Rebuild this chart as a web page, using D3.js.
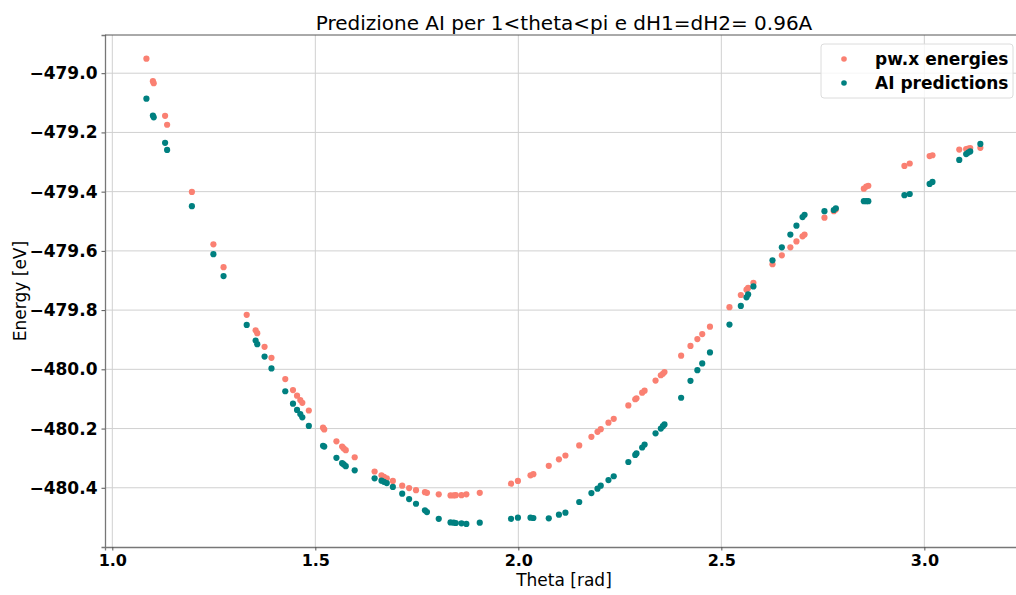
<!DOCTYPE html>
<html lang="en">
<head>
    <meta charset="UTF-8">
    <title>Predizione AI</title>
    <script src="https://d3js.org/d3.v7.min.js"></script>
    <style>
        body {
            margin: 0;
            background: #fff;
            font-family: "DejaVu Sans", sans-serif;
        }
    </style>
</head>
<body>
    <main></main>
</body>
</html>

<script>

    // theta values (rad), same for both series
    var theta = [1.084, 1.100, 1.102, 1.130, 1.135, 1.196, 1.249, 1.274, 1.331, 1.353,
        1.357, 1.375, 1.392, 1.426, 1.445, 1.455, 1.463, 1.468, 1.484, 1.519,
        1.522, 1.552, 1.566, 1.570, 1.575, 1.597, 1.646, 1.663, 1.669, 1.676,
        1.691, 1.714, 1.731, 1.748, 1.770, 1.775, 1.804, 1.833, 1.841, 1.846,
        1.860, 1.872, 1.905, 1.982, 1.999, 2.030, 2.037, 2.075, 2.100, 2.116,
        2.150, 2.180, 2.195, 2.203, 2.222, 2.235, 2.271, 2.288, 2.291, 2.305,
        2.311, 2.338, 2.351, 2.356, 2.360, 2.401, 2.424, 2.441, 2.453, 2.472,
        2.520, 2.548, 2.562, 2.566, 2.579, 2.626, 2.649, 2.670, 2.685, 2.700,
        2.705, 2.754, 2.777, 2.782, 2.851, 2.857, 2.862, 2.951, 2.964, 3.013,
        3.020, 3.086, 3.103, 3.108, 3.113, 3.138];

    // pw.x energies [eV]
    var pwEnergies = [-478.951, -479.027, -479.034, -479.144, -479.174, -479.401, -479.578, -479.655, -479.816, -479.868,
        -479.878, -479.924, -479.961, -480.033, -480.070, -480.089, -480.104, -480.113, -480.139, -480.197,
        -480.203, -480.243, -480.261, -480.267, -480.273, -480.297, -480.345, -480.358, -480.363, -480.368,
        -480.377, -480.393, -480.401, -480.408, -480.415, -480.417, -480.422, -480.426, -480.426, -480.425,
        -480.425, -480.422, -480.417, -480.386, -480.377, -480.358, -480.354, -480.326, -480.304, -480.291,
        -480.257, -480.228, -480.211, -480.202, -480.180, -480.167, -480.122, -480.101, -480.098, -480.079,
        -480.072, -480.038, -480.020, -480.015, -480.009, -479.954, -479.921, -479.898, -479.881, -479.856,
        -479.790, -479.749, -479.731, -479.725, -479.708, -479.645, -479.615, -479.588, -479.568, -479.551,
        -479.545, -479.488, -479.466, -479.460, -479.390, -479.383, -479.380, -479.313, -479.305, -479.280,
        -479.277, -479.258, -479.256, -479.255, -479.253, -479.252];

    // AI predictions [eV]
    var aiPredictions = [-479.086, -479.143, -479.149, -479.235, -479.259, -479.449, -479.611, -479.685, -479.850, -479.903,
        -479.915, -479.957, -479.997, -480.074, -480.116, -480.137, -480.151, -480.162, -480.191, -480.258,
        -480.261, -480.299, -480.317, -480.321, -480.327, -480.341, -480.368, -480.376, -480.380, -480.384,
        -480.397, -480.420, -480.438, -480.454, -480.476, -480.482, -480.505, -480.517, -480.518, -480.519,
        -480.520, -480.522, -480.518, -480.505, -480.501, -480.501, -480.502, -480.503, -480.491, -480.484,
        -480.448, -480.418, -480.403, -480.393, -480.374, -480.361, -480.313, -480.289, -480.284, -480.264,
        -480.254, -480.216, -480.200, -480.192, -480.186, -480.096, -480.039, -480.003, -479.980, -479.943,
        -479.849, -479.786, -479.757, -479.747, -479.720, -479.632, -479.588, -479.545, -479.515, -479.486,
        -479.478, -479.466, -479.462, -479.456, -479.432, -479.432, -479.432, -479.412, -479.408, -479.374,
        -479.367, -479.293, -479.273, -479.268, -479.264, -479.239];

    var xTicks = [1.0, 1.5, 2.0, 2.5, 3.0];
    var yTicks = [-479.0, -479.2, -479.4, -479.6, -479.8, -480.0, -480.2, -480.4];

    var seriesNames = ['pw.x energies', 'AI predictions'];
    var seriesColors = ['#fa8072', '#008080'];

    var w = 1016, h = 595;
    var m = {top: 35, left: 105, bottom: 48, right: -7};

    var svg = d3.select('main')
        .append('svg')
        .attr('width', w)
        .attr('height', h)
        .style('display', 'block');

    var x = d3.scaleLinear()
        .domain([0.982, 3.243])
        .range([m.left, w - m.right]);

    var y = d3.scaleLinear()
        .domain([-480.60, -478.871])
        .range([h - m.bottom, m.top]);

    //grid
    svg.append('g')
        .selectAll('line')
        .data(xTicks)
        .enter().append('line')
        .attr('x1', d => x(d)).attr('x2', d => x(d))
        .attr('y1', m.top).attr('y2', h - m.bottom)
        .attr('stroke', '#d0d0d0')
        .attr('stroke-width', 1);

    svg.append('g')
        .selectAll('line')
        .data(yTicks)
        .enter().append('line')
        .attr('x1', m.left).attr('x2', w - m.right)
        .attr('y1', d => y(d)).attr('y2', d => y(d))
        .attr('stroke', '#d0d0d0')
        .attr('stroke-width', 1);

    //axes
    var xAxis = svg.append('g')
        .attr('transform', 'translate(0,' + (h - m.bottom) + ')')
        .call(d3.axisBottom(x).tickValues(xTicks).tickFormat(d3.format('.1f')).tickSizeOuter(0).tickSize(3.5).tickPadding(4));

    var yAxis = svg.append('g')
        .attr('transform', 'translate(' + m.left + ',0)')
        .call(d3.axisLeft(y).tickValues(yTicks).tickFormat(d3.format('.1f')).tickSizeOuter(0).tickSize(3.5).tickPadding(4));

    xAxis.selectAll('text').attr('font-size', '16px');
    yAxis.selectAll('text').attr('font-size', '17px');

    [xAxis, yAxis].forEach(function(a) {
        a.selectAll('text')
            .attr('font-family', '"DejaVu Sans", sans-serif')
            .attr('font-weight', 'bold')
            .attr('fill', '#000');
        a.selectAll('.tick line').attr('stroke', '#555');
        a.select('.domain').attr('stroke', '#777').attr('stroke-width', 1.3);
    });

    // top spine
    svg.append('line')
        .attr('x1', m.left).attr('x2', w - m.right)
        .attr('y1', m.top).attr('y2', m.top)
        .attr('stroke', '#555')
        .attr('stroke-width', 1);

    //points
    svg.append('g')
        .selectAll('circle')
        .data(theta.map((t, i) => [t, pwEnergies[i]]))
        .enter().append('circle')
        .attr('cx', d => x(d[0]))
        .attr('cy', d => y(d[1]))
        .attr('r', 3.1)
        .attr('fill', seriesColors[0]);

    svg.append('g')
        .selectAll('circle')
        .data(theta.map((t, i) => [t, aiPredictions[i]]))
        .enter().append('circle')
        .attr('cx', d => x(d[0]))
        .attr('cy', d => y(d[1]))
        .attr('r', 3.1)
        .attr('fill', seriesColors[1]);

    //title + labels
    var cx = (m.left + w - m.right) / 2;
    svg.append('text')
        .attr('x', cx)
        .attr('y', 30)
        .attr('text-anchor', 'middle')
        .attr('font-size', '20px')
        .attr('fill', '#000')
        .text('Predizione AI per 1<theta<pi e dH1=dH2= 0.96A');

    svg.append('text')
        .attr('x', cx)
        .attr('y', 586)
        .attr('text-anchor', 'middle')
        .attr('font-size', '17px')
        .attr('fill', '#000')
        .text('Theta [rad]');

    svg.append('text')
        .attr('transform', 'translate(26,' + ((m.top + h - m.bottom) / 2) + ') rotate(-90)')
        .attr('text-anchor', 'middle')
        .attr('font-size', '17px')
        .attr('fill', '#000')
        .text('Energy [eV]');

    //legend
    var legend = svg.append('g').attr('id', 'legend');
    legend.append('rect')
        .attr('x', 821).attr('y', 44)
        .attr('width', 192).attr('height', 54)
        .attr('rx', 3)
        .attr('fill', 'rgba(255,255,255,0.8)')
        .attr('stroke', '#dcdcdc');

    seriesNames.forEach(function(name, i) {
        legend.append('circle')
            .attr('cx', 844)
            .attr('cy', 59 + i * 24)
            .attr('r', 2.8)
            .attr('fill', seriesColors[i]);
        legend.append('text')
            .attr('x', 875)
            .attr('y', 65 + i * 24)
            .attr('font-size', '17px')
            .attr('font-weight', 'bold')
            .attr('fill', '#000')
            .text(name);
    });

</script>
